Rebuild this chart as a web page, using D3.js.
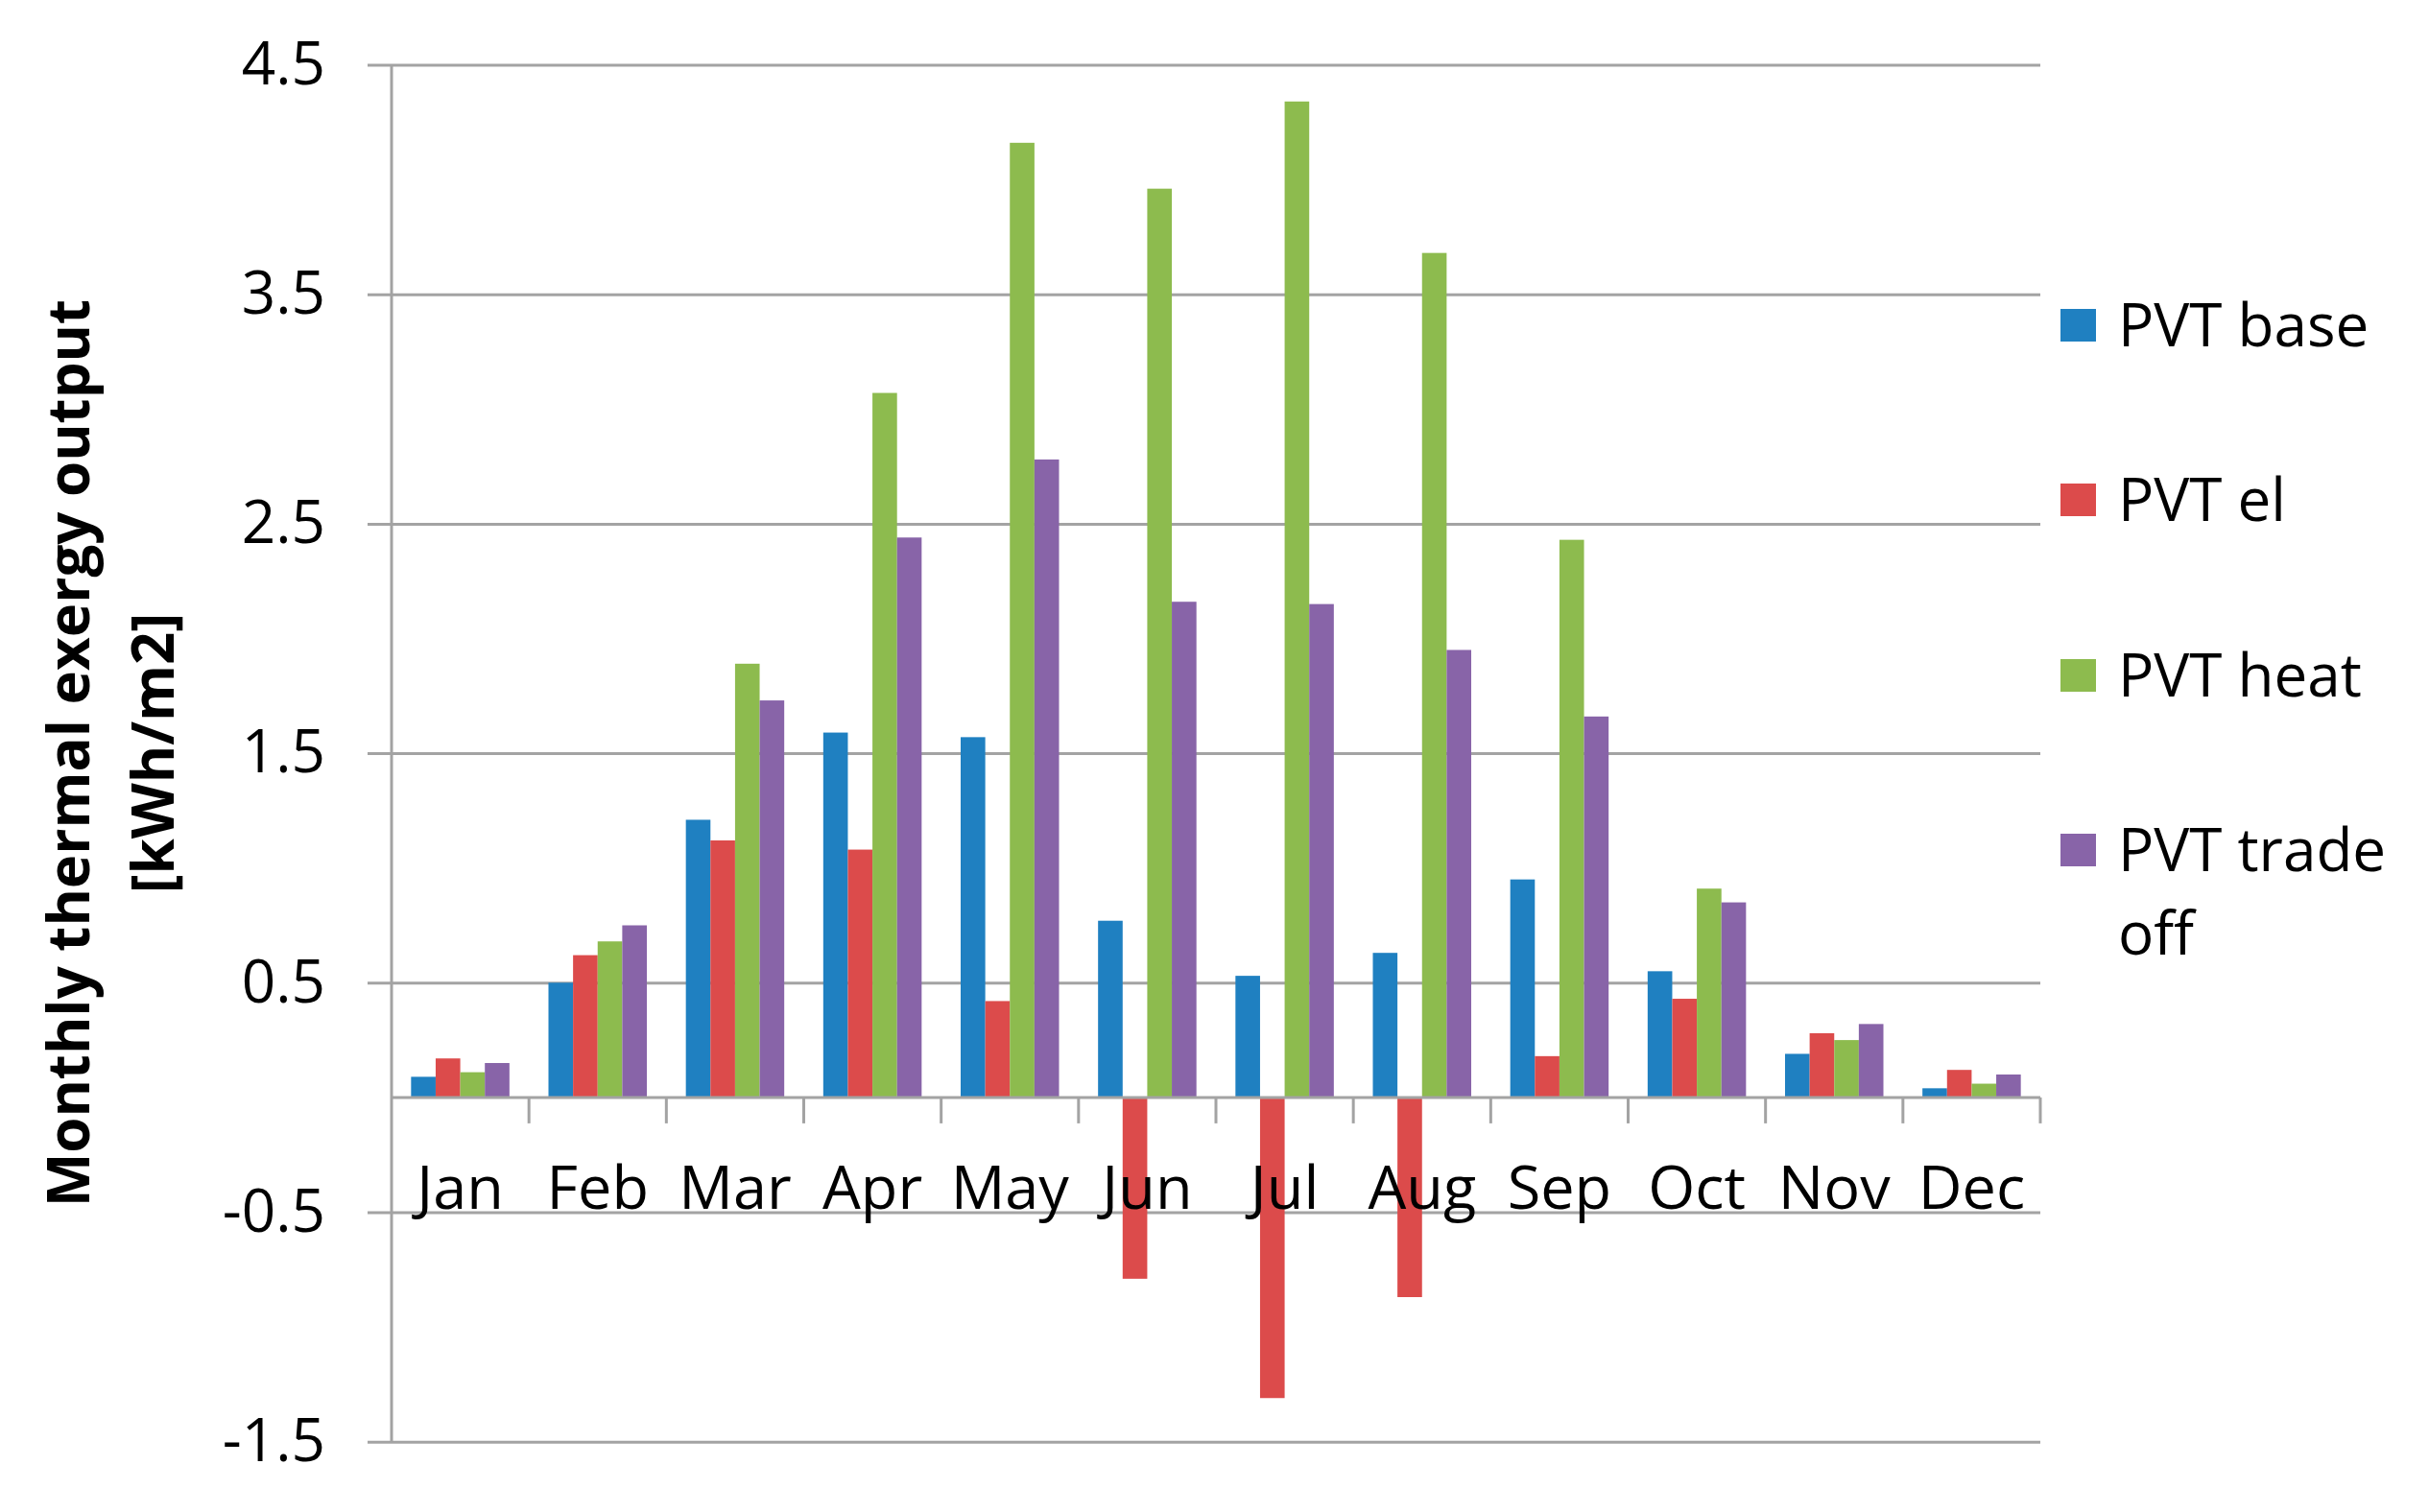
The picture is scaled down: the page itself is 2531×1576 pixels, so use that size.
<!DOCTYPE html>
<html>
<head>
<meta charset="utf-8">
<script src="https://cdn.jsdelivr.net/npm/d3@7"></script>
<style>
  html, body { margin: 0; padding: 0; background: #ffffff; }
  svg { display: block; }
  text { font-family: "Open Sans", "DejaVu Sans", sans-serif; fill: #000; }
</style>
</head>
<body>
<svg id="chart" width="2531" height="1576"></svg>
<script>
const months = ["Jan","Feb","Mar","Apr","May","Jun","Jul","Aug","Sep","Oct","Nov","Dec"];
const seriesNames = ["PVT base","PVT el","PVT heat","PVT trade off"];
const pvtBase  = [0.09, 0.50, 1.21, 1.59, 1.57, 0.77, 0.53, 0.63, 0.95, 0.55, 0.19, 0.04];
const pvtEl    = [0.17, 0.62, 1.12, 1.08, 0.42, -0.79, -1.31, -0.87, 0.18, 0.43, 0.28, 0.12];
const pvtHeat  = [0.11, 0.68, 1.89, 3.07, 4.16, 3.96, 4.34, 3.68, 2.43, 0.91, 0.25, 0.06];
const pvtTrade = [0.15, 0.75, 1.73, 2.44, 2.78, 2.16, 2.15, 1.95, 1.66, 0.85, 0.32, 0.10];
const yTicks = [4.5, 3.5, 2.5, 1.5, 0.5, -0.5, -1.5];
const colors = ["#1f80c1", "#dc4b4b", "#8dbb4e", "#8864a8"];
const yTitle = ["Monthly thermal exergy output", "[kWh/m2]"];

const seriesValues = [pvtBase, pvtEl, pvtHeat, pvtTrade];

(function () {
const svg = d3.select("#chart");
const pL = 408, pR = 2126, pT = 67.5, pB = 1502.7;
const gridColor = "#a3a3a3";

const x0 = d3.scaleBand().domain(months).range([pL, pR]).paddingInner(0).paddingOuter(0);
const bw = x0.bandwidth();
const x1 = d3.scaleBand().domain(seriesNames).range([bw * 0.142, bw * 0.858]).padding(0);
const y = d3.scaleLinear().domain([-1.5, 4.5]).range([pB, pT]);

// Y gridlines + tick labels via axis
const yAxisG = svg.append("g")
  .attr("transform", `translate(${pL - 25},0)`)
  .call(d3.axisLeft(y).tickValues(yTicks).tickFormat(d => d.toFixed(1))
        .tickSizeInner(-(pR - pL + 25)).tickSizeOuter(0).tickPadding(44));
yAxisG.select(".domain").remove();
yAxisG.selectAll(".tick line").attr("stroke", gridColor).attr("stroke-width", 3);
yAxisG.selectAll(".tick text")
  .attr("x", -44)
  .style("font-size", "62px")
  .style("font-family", "'Open Sans', sans-serif")
  .attr("fill", "#111");

// Bars
const groups = svg.append("g").selectAll("g")
  .data(months)
  .join("g")
  .attr("transform", d => `translate(${x0(d)},0)`);

groups.selectAll("rect")
  .data((m, i) => seriesNames.map((s, k) => ({ s, k, v: seriesValues[k][i] })))
  .join("rect")
  .attr("x", d => x1(d.s))
  .attr("width", x1.bandwidth())
  .attr("y", d => Math.min(y(d.v), y(0)))
  .attr("height", d => Math.abs(y(d.v) - y(0)))
  .attr("fill", d => colors[d.k]);

// Category axis line at zero and boundary ticks
svg.append("line")
  .attr("x1", pL).attr("x2", pR)
  .attr("y1", y(0)).attr("y2", y(0))
  .attr("stroke", gridColor).attr("stroke-width", 3);
svg.append("g").selectAll("line")
  .data(months)
  .join("line")
  .attr("x1", d => x0(d) + bw).attr("x2", d => x0(d) + bw)
  .attr("y1", y(0)).attr("y2", y(0) + 27)
  .attr("stroke", gridColor).attr("stroke-width", 3);

// Month labels via axis (drawn over bars)
const xAxisG = svg.append("g")
  .attr("transform", `translate(0,${y(0)})`)
  .call(d3.axisBottom(x0).tickSize(0).tickPadding(0));
xAxisG.select(".domain").remove();
xAxisG.selectAll(".tick text")
  .attr("y", y(-0.5) - y(0) - 3)
  .attr("dy", 0)
  .style("font-size", "63px")
  .style("font-family", "'Open Sans', sans-serif")
  .attr("fill", "#111");

// Vertical value axis line
svg.append("line")
  .attr("x1", pL).attr("x2", pL)
  .attr("y1", pT).attr("y2", pB)
  .attr("stroke", gridColor).attr("stroke-width", 3);

// Y axis title
const titleG = svg.append("g").attr("transform", `translate(0,${(pT + pB) / 2}) rotate(-90)`);
titleG.selectAll("text")
  .data(yTitle)
  .join("text")
  .attr("x", 0)
  .attr("y", (d, i) => 93 + i * 88)
  .attr("text-anchor", "middle")
  .style("font-size", "60px")
  .style("font-weight", "bold")
  .text(d => d);

// Legend
const legendLabels = [["PVT base"], ["PVT el"], ["PVT heat"], ["PVT trade", "off"]];
const legendY = [339, 521, 704, 886];
const lg = svg.append("g").selectAll("g")
  .data(seriesNames)
  .join("g")
  .attr("transform", (d, i) => `translate(2147,${legendY[i]})`);
lg.append("rect")
  .attr("x", 0).attr("y", -17).attr("width", 37).attr("height", 34)
  .attr("fill", (d, i) => colors[i]);
lg.each(function(d, i) {
  const g = d3.select(this);
  legendLabels[i].forEach((line, j) => {
    g.append("text")
      .attr("x", 60)
      .attr("y", j * 87)
      .attr("dy", "0.36em")
      .style("font-size", "62px")
      .text(line);
  });
});
})();
</script>
</body>
</html>
